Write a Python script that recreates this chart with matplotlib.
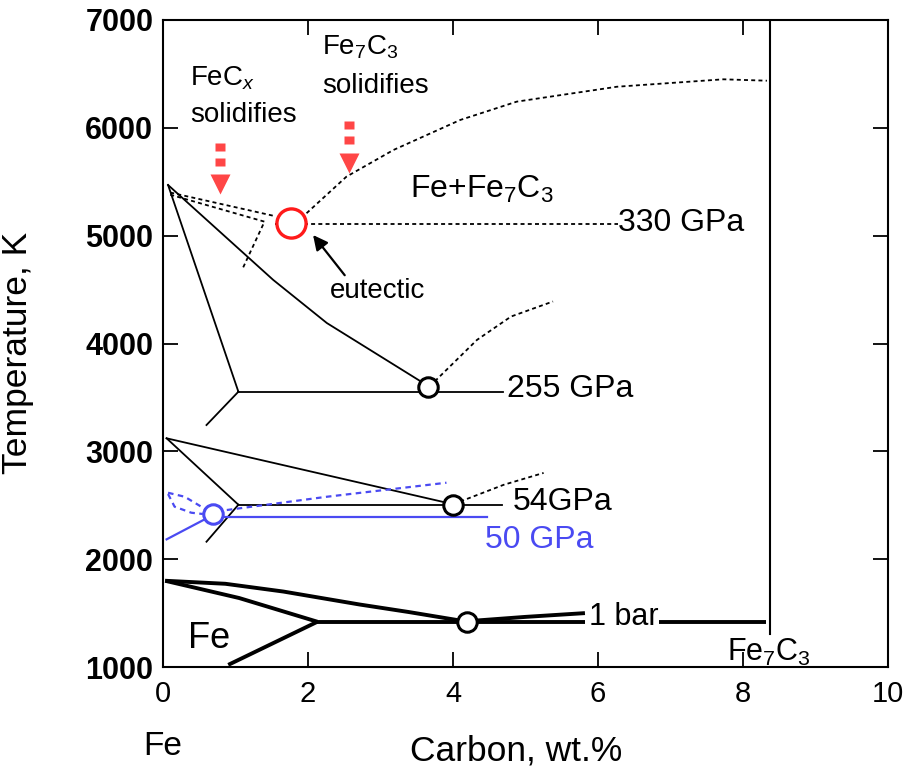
import matplotlib
matplotlib.use("Agg")
import matplotlib.pyplot as plt
from matplotlib import font_manager

# pick a condensed face for the axis text if the system has one
names = {f.name for f in font_manager.fontManager.ttflist}
HAVE_NARROW = "Liberation Sans Narrow" in names
NARROW = "Liberation Sans Narrow" if HAVE_NARROW else "Liberation Sans"
plt.rcParams["font.family"] = ["Liberation Sans", "DejaVu Sans"]
plt.rcParams["mathtext.fontset"] = "custom"
plt.rcParams["mathtext.rm"] = "Liberation Sans"
plt.rcParams["mathtext.it"] = "Liberation Sans:italic"

BLUE = "#4a4af2"
RED = "#ff4646"

# ---- 1 bar (thick lines) ----
bar1_liq_x = [0.03, 0.86, 1.66, 2.71, 3.39, 4.2]
bar1_liq_T = [1800, 1772, 1700, 1580, 1510, 1420]
bar1_sol_x = [0.03, 1.05, 2.13]
bar1_sol_T = [1800, 1640, 1420]
bar1_low_x = [2.13, 0.9]
bar1_low_T = [1420, 1020]
bar1_eut_x = [2.13, 5.82]
bar1_eut2_x = [6.84, 8.32]
bar1_eut_T = 1420
bar1_cliq_x = [4.2, 5.0, 5.82]
bar1_cliq_T = [1425, 1465, 1500]
bar1_pt = (4.2, 1420)

# ---- 255 GPa ----
p255_liq_x = [0.07, 1.52, 2.26, 3.6]
p255_liq_T = [5470, 4590, 4190, 3630]
p255_sol_x = [0.07, 1.04]
p255_sol_T = [5470, 3553]
p255_low_x = [1.04, 0.6]
p255_low_T = [3553, 3244]
p255_eut_x = [1.04, 4.69]
p255_eut_T = 3553
p255_cliq_x = [3.75, 4.33, 4.8, 5.38]
p255_cliq_T = [3650, 4033, 4250, 4390]
p255_pt = (3.65, 3600)

# ---- 54 GPa ----
p54_liq_x = [0.05, 4.0]
p54_liq_T = [3121, 2510]
p54_sol_x = [0.05, 1.04]
p54_sol_T = [3121, 2505]
p54_low_x = [1.04, 0.6]
p54_low_T = [2505, 2162]
p54_eut_x = [1.04, 4.67]
p54_eut_T = 2505
p54_cliq_x = [4.1, 4.7, 5.25]
p54_cliq_T = [2535, 2690, 2800]
p54_pt = (4.0, 2505)

# ---- 50 GPa (blue) ----
p50_liq_x = [0.05, 0.69]
p50_liq_T = [2184, 2410]
p50_eut_x = [0.69, 4.47]
p50_eut_T = 2394
p50_up_x = [0.07, 0.30, 0.53, 0.62]
p50_up_T = [2616, 2579, 2486, 2440]
p50_lo_x = [0.07, 0.16, 0.39, 0.55]
p50_lo_T = [2604, 2487, 2431, 2419]
p50_cliq_x = [0.88, 2.26, 3.91]
p50_cliq_T = [2456, 2579, 2709]
p50_pt = (0.69, 2420)

# ---- 330 GPa (dotted) ----
p330_a_x = [0.1, 1.54]
p330_a_T = [5400, 5182]
p330_b_x = [0.1, 1.40, 1.10]
p330_b_T = [5380, 5130, 4697]
p330_eut_x = [1.55, 6.28]
p330_eut_T = 5105
p330_cliq_x = [1.98, 2.53, 3.18, 4.10, 4.88, 6.26, 7.73, 8.33]
p330_cliq_T = [5208, 5547, 5795, 6073, 6243, 6381, 6450, 6437]
p330_pt = (1.77, 5120)

# Fe7C3 composition line
fe7c3_x = 8.37
fe7c3_T = [1310, 7000]

# red "solidifies" arrows: x position, block centres, head centre
arrow_x = [0.79, 2.56]
arrow_blocks_T = [[5825, 5686], [6026, 5887]]
arrow_head_T = [5479, 5671]

fig = plt.figure(figsize=(9.09, 7.69), dpi=100)
ax = fig.add_axes([0.1793, 0.1326, 0.7976, 0.8414])

thick = dict(color="black", lw=2.8, solid_capstyle="butt")
thin = dict(color="black", lw=1.3)
dot = dict(color="black", lw=1.3, ls=(0, (2.2, 1.8)))

# 1 bar
ax.plot(bar1_liq_x, bar1_liq_T, **thick)
ax.plot(bar1_sol_x, bar1_sol_T, **thick)
ax.plot(bar1_low_x, bar1_low_T, **thick)
ax.plot(bar1_eut_x, [bar1_eut_T] * 2, **thick)
ax.plot(bar1_eut2_x, [bar1_eut_T] * 2, **thick)
ax.plot(bar1_cliq_x, bar1_cliq_T, **thick)

# 255 GPa
ax.plot(p255_liq_x, p255_liq_T, **thin)
ax.plot(p255_sol_x, p255_sol_T, **thin)
ax.plot(p255_low_x, p255_low_T, **thin)
ax.plot(p255_eut_x, [p255_eut_T] * 2, **thin)
ax.plot(p255_cliq_x, p255_cliq_T, **dot)

# 54 GPa
ax.plot(p54_liq_x, p54_liq_T, **thin)
ax.plot(p54_sol_x, p54_sol_T, **thin)
ax.plot(p54_low_x, p54_low_T, **thin)
ax.plot(p54_eut_x, [p54_eut_T] * 2, **thin)
ax.plot(p54_cliq_x, p54_cliq_T, **dot)

# 50 GPa
bdash = dict(color=BLUE, lw=1.6, ls=(0, (2.5, 2)))
ax.plot(p50_liq_x, p50_liq_T, color=BLUE, lw=1.6)
ax.plot(p50_eut_x, [p50_eut_T] * 2, color=BLUE, lw=1.6)
ax.plot(p50_up_x, p50_up_T, **bdash)
ax.plot(p50_lo_x, p50_lo_T, **bdash)
ax.plot(p50_cliq_x, p50_cliq_T, **bdash)

# 330 GPa
ax.plot(p330_a_x, p330_a_T, **dot)
ax.plot(p330_b_x, p330_b_T, **dot)
ax.plot(p330_eut_x, [p330_eut_T] * 2, **dot)
ax.plot(p330_cliq_x, p330_cliq_T, **dot)

ax.plot([fe7c3_x] * 2, fe7c3_T, color="black", lw=1.5)

# eutectic points
for pt, c, ms, mew in [(bar1_pt, "black", 14, 2.2), (p255_pt, "black", 14, 2.2),
                       (p54_pt, "black", 14, 2.2), (p50_pt, BLUE, 14, 2.2),
                       (p330_pt, "#ff1a1a", 21, 2.4)]:
    ax.plot(*pt, marker="o", ms=ms, mfc="white", mec=c, mew=mew, zorder=5)

# dashed red arrows
block = [(-5, -3.5), (5, -3.5), (5, 3.5), (-5, 3.5), (-5, -3.5)]
for x, blocks, head in zip(arrow_x, arrow_blocks_T, arrow_head_T):
    ax.plot([x] * len(blocks), blocks, ls="none", marker=block, ms=7.5,
            color=RED, mec="none")
    ax.plot(x, head, marker="v", ms=15, color=RED, mec="none")

# text labels
ax.text(0.37, 6388, "FeC$_\\mathit{x}$", fontsize=20)
ax.text(0.37, 6057, "solidifies", fontsize=20)
ax.text(2.19, 6676, "Fe$_7$C$_3$", fontsize=20)
ax.text(2.19, 6320, "solidifies", fontsize=20)
ax.text(3.41, 5347, "Fe+Fe$_7$C$_3$", fontsize=23)
ax.text(6.28, 5046, "330 GPa", fontsize=23)
ax.text(4.74, 3507, "255 GPa", fontsize=23)
ax.text(4.83, 2456, "54GPa", fontsize=23)
ax.text(4.44, 2104, "50 GPa", fontsize=23, color=BLUE)
ax.text(5.88, 1390, "1 bar", fontsize=22)
ax.text(0.34, 1176, "Fe", fontsize=26)
ax.text(7.78, 1060, "Fe$_7$C$_3$", fontsize=22, family=NARROW)
ax.text(0, 185, "Fe", fontsize=24, ha="center", family=NARROW)
ax.annotate("eutectic", xy=(2.07, 5006), xytext=(2.30, 4422), fontsize=20,
            arrowprops=dict(arrowstyle="-|>", color="black", lw=1.6,
                            mutation_scale=22, shrinkA=0, shrinkB=0,
                            relpos=(0.18, 1.0)))

ax.set_xlim(0, 10)
ax.set_ylim(1000, 7000)
ax.set_xticks(range(0, 11, 2))
ax.set_yticks(range(1000, 7001, 1000))
ax.tick_params(direction="in", length=11, width=1.3, top=True, right=True)
ax.tick_params(axis="x", pad=9)
ax.tick_params(axis="y", pad=7)
for lab in ax.get_xticklabels():
    lab.set_fontsize(23 if HAVE_NARROW else 21)
    lab.set_family(NARROW)
for lab in ax.get_yticklabels():
    lab.set_fontsize(22)
    lab.set_fontweight("bold")
for s in ax.spines.values():
    s.set_linewidth(1.5)

label_size = 30 if HAVE_NARROW else 25.5
ax.set_xlabel("Carbon, wt.%", fontsize=label_size, family=NARROW)
ax.set_ylabel("Temperature, K", fontsize=label_size, family=NARROW)
ax.xaxis.set_label_coords(0.487, -0.105)
ax.yaxis.set_label_coords(-0.178, 0.485)

fig.savefig("out.png", dpi=100)
